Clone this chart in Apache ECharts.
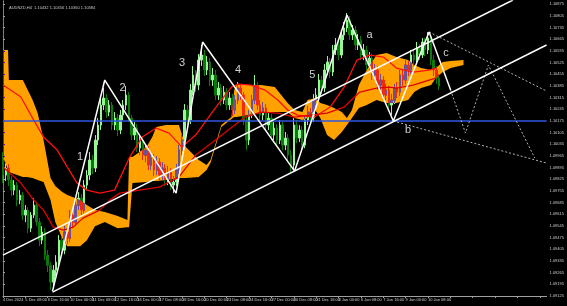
<!DOCTYPE html>
<html><head><meta charset="utf-8">
<script src="https://cdn.jsdelivr.net/npm/echarts@6/dist/echarts.min.js"></script>
<style>html,body{margin:0;padding:0;background:#000;}#c{width:567px;height:306px;}</style>
</head><body><div id="c"></div>
<script>
const titleText = "AUDNZD,H4  1.10432 1.10456 1.10360 1.10384";
const xTickLabels = ["4 Dec 2024","5 Dec 08:00","6 Dec 16:00","10 Dec 00:00","11 Dec 08:00","12 Dec 16:00","16 Dec 00:00","17 Dec 08:00","18 Dec 16:00","20 Dec 00:00","23 Dec 08:00","24 Dec 16:00","27 Dec 00:00","30 Dec 08:00","31 Dec 16:00","3 Jan 00:00","6 Jan 08:00","7 Jan 16:00","9 Jan 00:00","10 Jan 08:00"];
// [open, close, low, high]
const candles = [
[1.09940,1.09850,1.09802,1.09988],[1.09850,1.09892,1.09814,1.09928],[1.09892,1.09820,1.09784,1.09916],[1.09820,1.09760,1.09724,1.09844],
[1.09760,1.09790,1.09730,1.09820],[1.09790,1.09700,1.09664,1.09808],[1.09700,1.09730,1.09676,1.09760],[1.09730,1.09610,1.09580,1.09748],
[1.09610,1.09640,1.09568,1.09670],[1.09640,1.09532,1.09502,1.09658],[1.09532,1.09610,1.09508,1.09628],[1.09610,1.09670,1.09592,1.09712],
[1.09670,1.09568,1.09544,1.09688],[1.09568,1.09460,1.09424,1.09592],[1.09460,1.09508,1.09436,1.09544],[1.09508,1.09370,1.09340,1.09532],
[1.09370,1.09310,1.09268,1.09400],[1.09310,1.09208,1.09160,1.09328],[1.09208,1.09280,1.09184,1.09310],[1.09280,1.09328,1.09244,1.09370],
[1.09328,1.09460,1.09304,1.09490],[1.09460,1.09400,1.09364,1.09484],[1.09400,1.09508,1.09376,1.09544],[1.09508,1.09472,1.09436,1.09532],
[1.09472,1.09610,1.09448,1.09640],[1.09610,1.09568,1.09532,1.09640],[1.09568,1.09670,1.09544,1.09700],[1.09670,1.09712,1.09640,1.09748],
[1.09712,1.09640,1.09610,1.09736],[1.09640,1.09790,1.09622,1.09820],[1.09790,1.09850,1.09760,1.09880],[1.09850,1.09940,1.09820,1.09988],
[1.09940,1.09892,1.09856,1.09970],[1.09892,1.10060,1.09868,1.10090],[1.10060,1.10150,1.10030,1.10192],[1.10150,1.10270,1.10120,1.10312],
[1.10270,1.10312,1.10240,1.10372],[1.10312,1.10228,1.10192,1.10336],[1.10228,1.10270,1.10204,1.10300],[1.10270,1.10150,1.10120,1.10288],
[1.10150,1.10192,1.10120,1.10228],[1.10192,1.10120,1.10084,1.10216],[1.10120,1.10210,1.10096,1.10240],[1.10210,1.10270,1.10180,1.10300],
[1.10270,1.10330,1.10240,1.10384],[1.10330,1.10192,1.10168,1.10348],[1.10192,1.10090,1.10060,1.10210],[1.10090,1.10132,1.10060,1.10168],
[1.10132,1.10012,1.09988,1.10156],[1.10012,1.10060,1.09970,1.10090],[1.10060,1.09970,1.09940,1.10084],[1.09970,1.10000,1.09928,1.10030],
[1.10000,1.09910,1.09880,1.10024],[1.09910,1.09952,1.09880,1.09988],[1.09952,1.09880,1.09844,1.09976],[1.09880,1.09928,1.09850,1.09964],
[1.09928,1.09850,1.09820,1.09952],[1.09850,1.09892,1.09820,1.09928],[1.09892,1.09820,1.09784,1.09916],[1.09820,1.09868,1.09790,1.09904],
[1.09868,1.09790,1.09760,1.09892],[1.09790,1.09808,1.09742,1.09844],[1.09808,1.09880,1.09784,1.09916],[1.09880,1.10000,1.09856,1.10030],
[1.10000,1.10060,1.09970,1.10102],[1.10060,1.10240,1.10036,1.10276],[1.10240,1.10180,1.10144,1.10270],[1.10180,1.10360,1.10156,1.10396],
[1.10360,1.10450,1.10330,1.10504],[1.10450,1.10390,1.10348,1.10480],[1.10390,1.10540,1.10360,1.10576],[1.10540,1.10570,1.10504,1.10630],
[1.10570,1.10480,1.10444,1.10600],[1.10480,1.10528,1.10450,1.10564],[1.10528,1.10420,1.10384,1.10552],[1.10420,1.10450,1.10384,1.10492],
[1.10450,1.10330,1.10300,1.10480],[1.10330,1.10372,1.10300,1.10408],[1.10372,1.10300,1.10264,1.10396],[1.10300,1.10348,1.10276,1.10384],
[1.10348,1.10270,1.10240,1.10372],[1.10270,1.10312,1.10240,1.10348],[1.10312,1.10240,1.10204,1.10336],[1.10240,1.10300,1.10216,1.10330],
[1.10300,1.10372,1.10276,1.10408],[1.10372,1.10330,1.10300,1.10396],[1.10330,1.10180,1.10150,1.10348],[1.10180,1.10060,1.10000,1.10204],
[1.10060,1.10210,1.10030,1.10240],[1.10210,1.10300,1.10192,1.10330],[1.10300,1.10390,1.10276,1.10450],[1.10390,1.10270,1.10240,1.10408],
[1.10270,1.10210,1.10180,1.10300],[1.10210,1.10252,1.10180,1.10288],[1.10252,1.10150,1.10120,1.10276],[1.10150,1.10192,1.10120,1.10228],
[1.10192,1.10090,1.10060,1.10216],[1.10090,1.10132,1.10060,1.10168],[1.10132,1.10060,1.10024,1.10156],[1.10060,1.10150,1.10036,1.10180],
[1.10150,1.10030,1.10000,1.10168],[1.10030,1.10072,1.10000,1.10108],[1.10072,1.09970,1.09940,1.10096],[1.09970,1.09910,1.09868,1.10000],
[1.09910,1.10150,1.09880,1.10192],[1.10150,1.10072,1.10042,1.10180],[1.10072,1.10120,1.10048,1.10150],[1.10120,1.10030,1.10000,1.10144],
[1.10030,1.10180,1.10012,1.10210],[1.10180,1.10228,1.10150,1.10264],[1.10228,1.10192,1.10156,1.10252],[1.10192,1.10300,1.10168,1.10336],
[1.10300,1.10330,1.10270,1.10372],[1.10330,1.10420,1.10300,1.10456],[1.10420,1.10372,1.10336,1.10444],[1.10372,1.10480,1.10348,1.10516],
[1.10480,1.10528,1.10450,1.10564],[1.10528,1.10468,1.10432,1.10552],[1.10468,1.10600,1.10444,1.10630],[1.10600,1.10630,1.10570,1.10672],
[1.10630,1.10570,1.10540,1.10660],[1.10570,1.10690,1.10552,1.10720],[1.10690,1.10732,1.10660,1.10768],[1.10732,1.10780,1.10708,1.10822],
[1.10780,1.10690,1.10660,1.10804],[1.10690,1.10720,1.10660,1.10750],[1.10720,1.10630,1.10600,1.10744],[1.10630,1.10660,1.10600,1.10696],
[1.10660,1.10570,1.10540,1.10684],[1.10570,1.10600,1.10540,1.10636],[1.10600,1.10510,1.10480,1.10624],[1.10510,1.10552,1.10480,1.10588],
[1.10552,1.10450,1.10420,1.10576],[1.10450,1.10480,1.10420,1.10516],[1.10480,1.10390,1.10360,1.10504],[1.10390,1.10420,1.10360,1.10456],
[1.10420,1.10330,1.10300,1.10444],[1.10330,1.10360,1.10300,1.10396],[1.10360,1.10270,1.10240,1.10384],[1.10270,1.10300,1.10210,1.10336],
[1.10300,1.10372,1.10276,1.10396],[1.10372,1.10348,1.10312,1.10408],[1.10348,1.10450,1.10324,1.10480],[1.10450,1.10420,1.10384,1.10480],
[1.10420,1.10510,1.10396,1.10540],[1.10510,1.10480,1.10444,1.10540],[1.10480,1.10570,1.10456,1.10600],[1.10570,1.10540,1.10504,1.10600],
[1.10540,1.10612,1.10516,1.10648],[1.10612,1.10570,1.10540,1.10636],[1.10570,1.10648,1.10552,1.10672],[1.10648,1.10600,1.10564,1.10672],
[1.10600,1.10672,1.10576,1.10708],[1.10672,1.10540,1.10510,1.10690],[1.10540,1.10480,1.10444,1.10570],[1.10480,1.10432,1.10396,1.10504],
[1.10432,1.10384,1.10360,1.10456]
];
// Ichimoku cloud boundaries (bar position, span A, span B)
const cloudX = [0,1.8,2.1,7.1,8.5,10.6,12.4,14.5,17.0,18.7,21.2,23.0,27.6,30.0,32.9,36.4,41.0,44.5,45.1,46.3,51.3,53.4,54.8,58.3,62.9,65.4,70.0,72.8,74.2,78.1,81.7,82.7,83.4,92.3,97.2,101.8,104.3,107.1,108.9,111.7,113.5,115.9,118.4,121.2,123.0,124.8,127.3,130.1,133.6,137.2,140.7,144.9,147.1,149.5,153.1,154.8,157.3,160.1,164.7];
const spanA  = [1.1060,1.1060,1.1042,1.1042,1.10372,1.1030,1.10222,1.1006,1.09832,1.09784,1.09748,1.0973,1.0970,1.0967,1.0964,1.09628,1.09604,1.0958,1.09958,1.09958,1.10018,1.10078,1.10138,1.1015,1.1015,1.10018,1.0994,1.0991,1.0994,1.1015,1.10198,1.1036,1.1039,1.1039,1.10378,1.10282,1.1024,1.10228,1.1030,1.10312,1.10282,1.1027,1.10252,1.10228,1.10192,1.1024,1.1039,1.1048,1.1057,1.10582,1.10558,1.1054,1.1051,1.10492,1.1048,1.10492,1.10528,1.10534,1.1054];
const spanB  = [1.09958,1.0988,1.09868,1.09838,1.09838,1.09832,1.0982,1.09808,1.0970,1.09568,1.09472,1.09424,1.09424,1.0946,1.09544,1.09568,1.09532,1.09538,1.09538,1.09802,1.09808,1.09814,1.09814,1.0982,1.09832,1.09832,1.09838,1.0988,1.09922,1.10138,1.10186,1.10198,1.10198,1.10222,1.10228,1.10228,1.10192,1.1018,1.10192,1.1024,1.10192,1.1009,1.1006,1.10108,1.1015,1.10192,1.10252,1.1027,1.1030,1.10282,1.10282,1.1030,1.10348,1.10372,1.1039,1.10432,1.10468,1.10492,1.1051];
const redKijun = [[0,1.1039],[6.4,1.10318],[11.0,1.1018],[14.5,1.10078],[19.4,1.1000],[23.0,1.09898],[26.5,1.09802],[30.0,1.0976],[34.6,1.09742],[39.9,1.0976],[45.3,1.09958],[49.8,1.10078],[54.8,1.10132],[59.4,1.10102],[64.0,1.10018],[68.9,1.1009],[74.6,1.10222],[78.1,1.103],[81.7,1.10378],[84.1,1.10396],[88.7,1.1039],[93.7,1.1036],[98.3,1.103],[101.8,1.1024],[105.3,1.1021],[111.4,1.10198],[117.0,1.10258],[122.0,1.10378],[126.6,1.1054],[131.1,1.1057],[136.1,1.10558],[140.7,1.10492],[146.7,1.10468],[152.4,1.1048],[154.8,1.10492]];
const redTenkan = [[0,1.09898],[6.4,1.09802],[11.0,1.0970],[14.5,1.0964],[18.0,1.09538],[21.6,1.0952],[25.1,1.09538],[28.6,1.09592],[34.6,1.0964],[38.2,1.0970],[41.7,1.09742],[48.8,1.0976],[55.9,1.09778],[62.9,1.09838],[68.9,1.0997],[74.6,1.10042],[80.6,1.1012],[86.6,1.10198],[92.3,1.10228],[98.3,1.10222],[104.3,1.10198],[109.9,1.1021],[115.9,1.10222],[122.0,1.10258],[127.6,1.10348],[133.6,1.10372],[138.2,1.10378],[140.7,1.10372],[146.7,1.1039],[152.4,1.1042],[154.8,1.10432]];
const waveLine = [[17.7,1.09154],[36.4,1.1042],[61.9,1.09742],[71.4,1.10648],[104.3,1.09874],[123.0,1.1081],[139.6,1.10174],[152.4,1.10708],[160.1,1.1036]];
const projLine = [[160.1,1.1036],[165.4,1.10102],[173.6,1.1051],[190.2,1.09952]];
const projUpper = [[152.4,1.10708],[194.4,1.10354]];
const projLower = [[139.6,1.10174],[194.4,1.09922]];
const channelUpper = [[0,1.0937],[182.4,1.1090]];
const channelLower = [[17.7,1.09148],[194.4,1.1063]];
const hLevel = 1.10174;
const lastPrice = 1.10384;
const waveLabels = [[27.6,1.09958,"1"],[42.8,1.10372,"2"],[64.0,1.10522,"3"],[84.1,1.1048,"4"],[110.6,1.1045,"5"],[131.1,1.1069,"a"],[144.9,1.1012,"b"],[158.4,1.10582,"c"]];

const chart = echarts.init(document.getElementById('c'), null, {renderer:'canvas'});
const candleData = candles.map((d,i)=>[i,d[0],d[1],d[2],d[3]]);
const fontFam = 'Liberation Sans, Arial, sans-serif';
function lineSeries(data, color, width, type, z){
  return {type:'line', data:data, showSymbol:false, symbol:'none', silent:true, z:z,
    lineStyle:{color:color, width:width, type:type||'solid'}};
}
chart.setOption({
  backgroundColor:'#000000',
  animation:false,
  title:{text:titleText,left:4,top:1,textStyle:{fontSize:4,color:'#c8c8c8',fontWeight:'normal',fontFamily:fontFam}},
  grid:{left:2,right:15,top:1,bottom:10},
  xAxis:{type:'value',min:0,max:194.4,interval:8,
    axisLine:{show:true,lineStyle:{color:'#a0a0a0',width:1}},
    axisTick:{show:true,length:2,lineStyle:{color:'#a0a0a0'}},
    splitLine:{show:false},
    axisLabel:{show:true,fontSize:4,color:'#d0d0d0',margin:2,align:'left',showMaxLabel:false,fontFamily:fontFam,
      formatter:function(v){const k=Math.round(v/8);return xTickLabels[k]||'';}}},
  yAxis:[{type:'value',position:'right',min:1.09125,max:1.10894,interval:0.0007,scale:true,
    axisLine:{show:true,lineStyle:{color:'#a0a0a0',width:1}},
    axisTick:{show:true,length:2,lineStyle:{color:'#a0a0a0'}},
    splitLine:{show:false},
    axisLabel:{fontSize:4,color:'#d0d0d0',margin:3,showMaxLabel:false,fontFamily:fontFam,formatter:function(v){return v.toFixed(5);}}},
    {type:'value',position:'left',min:1.09125,max:1.10894,axisLine:{show:true,lineStyle:{color:'#808080'}},axisTick:{show:false},axisLabel:{show:false},splitLine:{show:false}}],
  series:[
    {type:'candlestick',data:candleData,encode:{x:0,y:[1,2,3,4]},barWidth:2,z:2,silent:true,
      itemStyle:{color:'#98f598',color0:'#0b7a0b',borderColor:'#98f598',borderColor0:'#0b7a0b',borderWidth:1}},
    {type:'custom',z:3,silent:true,blendMode:'difference',data:[[0,1.1]],
      renderItem:function(params,api){
        const pts=[];
        for(let k=0;k<cloudX.length;k++) pts.push(api.coord([cloudX[k],spanA[k]]));
        for(let k=cloudX.length-1;k>=0;k--) pts.push(api.coord([cloudX[k],spanB[k]]));
        return {type:'polygon',shape:{points:pts},style:{fill:'#ffa200',stroke:null}};
      }},
    lineSeries(redKijun,'#ff1010',1.3,'solid',4),
    lineSeries(redTenkan,'#e00000',1.3,'solid',4),
    {type:'line',data:[[0,hLevel],[194.4,hLevel]],showSymbol:false,symbol:'none',silent:true,z:5,
      lineStyle:{color:'#2f55e0',width:1.5},
      markLine:{silent:true,symbol:'none',animation:false,
        data:[{yAxis:hLevel,lineStyle:{width:0,opacity:0},label:{show:true,position:'end',distance:1,formatter:hLevel.toFixed(5),backgroundColor:'#2f55e0',color:'#ffffff',fontSize:4,padding:[1,1],fontFamily:fontFam}},
              {yAxis:lastPrice,lineStyle:{width:0,opacity:0},label:{show:true,position:'end',distance:1,formatter:lastPrice.toFixed(5),backgroundColor:'#ffffff',color:'#000000',fontSize:4,padding:[1,1],fontFamily:fontFam}}]}},
    lineSeries(projLine,'#b0b0b0',1,[2,2],5),
    lineSeries(projUpper,'#b0b0b0',1,[2,2],5),
    lineSeries(projLower,'#b0b0b0',1,[2,2],5),
    lineSeries(channelUpper,'#ffffff',1.5,'solid',6),
    lineSeries(channelLower,'#ffffff',1.5,'solid',6),
    lineSeries(waveLine,'#ffffff',1.5,'solid',6),
    {type:'scatter',data:waveLabels,symbolSize:1,z:7,silent:true,itemStyle:{color:'rgba(0,0,0,0)'},
      label:{show:true,position:'inside',color:'#ffffff',fontSize:11,fontFamily:fontFam,formatter:function(p){return p.data[2];}}}
  ]
});
</script></body></html>
